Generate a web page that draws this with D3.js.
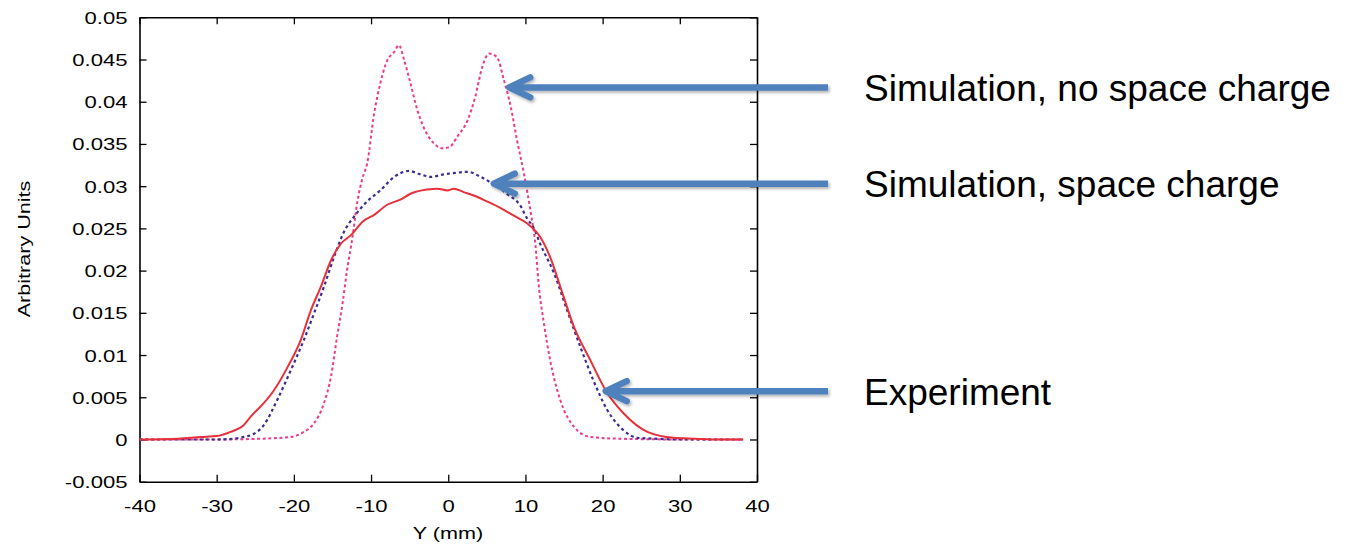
<!DOCTYPE html>
<html>
<head>
<meta charset="utf-8">
<script src="https://cdn.jsdelivr.net/npm/d3@7"></script>
<style>
  html, body { margin: 0; padding: 0; background: #fff; }
  svg { display: block; }
  text { font-family: "Liberation Sans", Arial, Helvetica, sans-serif; fill: #000; }
</style>
</head>
<body>
<svg id="chart" width="1349" height="547"></svg>
<script>
// ---------- data ----------
const expX = [-40, -35, -32, -30, -28.2, -26.5, -25.6, -23.9, -22.6, -20.8, -19.1, -17.8, -16.5, -15.2, -13.9, -12.6, -11.1, -9.6, -7.9, -6.2, -4.9, -2.7, -1.4, -0.1, 0.7, 2.0, 3.3, 5.0, 6.8, 8.5, 10.2, 11.9, 13.2, 14.8, 16.3, 18.4, 20.6, 22.7, 25.8, 29.2, 32, 35, 38.2];
const expY = [0, 0.0001, 0.0003, 0.0004, 0.0009, 0.0017, 0.0027, 0.0043, 0.0058, 0.0086, 0.0118, 0.0153, 0.0181, 0.0212, 0.0232, 0.0242, 0.0258, 0.0266, 0.0278, 0.0284, 0.0291, 0.0296, 0.0297, 0.0295, 0.0297, 0.0293, 0.0289, 0.0282, 0.0274, 0.0265, 0.0256, 0.0240, 0.0216, 0.0173, 0.0133, 0.0094, 0.0055, 0.0031, 0.0009, 0.0002, 0.0001, 0, 0];

const scX = [-40, -30, -27.8, -26.0, -25.6, -23.9, -22.1, -20.4, -18.7, -17.4, -16.1, -14.8, -13.5, -12.2, -10.5, -8.8, -7.0, -5.1, -3.6, -2.3, -0.6, 1.2, 2.5, 4.2, 5.9, 7.6, 9.4, 10.2, 11.1, 11.9, 13.7, 15.4, 17.1, 18.8, 20.6, 22.7, 24.5, 26.6, 30, 38.2];
const scY = [0, 0, 0.0001, 0.0004, 0.0005, 0.0017, 0.0048, 0.0082, 0.0118, 0.0149, 0.0181, 0.0216, 0.0246, 0.0264, 0.0282, 0.0295, 0.0311, 0.0318, 0.0314, 0.0311, 0.0314, 0.0316, 0.0317, 0.0311, 0.0302, 0.0291, 0.0276, 0.0262, 0.0250, 0.0232, 0.0197, 0.0153, 0.0110, 0.0070, 0.0035, 0.0011, 0.0002, 0.0001, 0, 0];

const noscX = [-40, -30, -23.9, -20.4, -18.7, -17.4, -16.1, -15.2, -14.4, -13.7, -13.1, -12.4, -11.8, -11.1, -10.5, -9.6, -8.8, -7.9, -7.0, -6.4, -5.7, -4.9, -4.0, -3.2, -1.9, -0.8, 0.1, 1.2, 2.5, 3.5, 4.4, 5.3, 6.3, 7.2, 8.1, 8.9, 9.8, 10.7, 11.3, 11.7, 12.4, 13.2, 14.5, 16.3, 18.4, 21.9, 30, 38.2];
const noscY = [0, 0, 0.0001, 0.0003, 0.0009, 0.0019, 0.0043, 0.0074, 0.0122, 0.0161, 0.0201, 0.0240, 0.0280, 0.0310, 0.0327, 0.0386, 0.0422, 0.0449, 0.0459, 0.0467, 0.0449, 0.0422, 0.0390, 0.0370, 0.0351, 0.0345, 0.0346, 0.0359, 0.0378, 0.0406, 0.0441, 0.0457, 0.0453, 0.0426, 0.0394, 0.0355, 0.0315, 0.0268, 0.0230, 0.0185, 0.0137, 0.0094, 0.0047, 0.0015, 0.0003, 0.0001, 0, 0];

const xTicks = [-40, -30, -20, -10, 0, 10, 20, 30, 40];
const xTickLabels = ["-40", "-30", "-20", "-10", "0", "10", "20", "30", "40"];
const yTicks = [-0.005, 0, 0.005, 0.01, 0.015, 0.02, 0.025, 0.03, 0.035, 0.04, 0.045, 0.05];
const yTickLabels = ["-0.005", "0", "0.005", "0.01", "0.015", "0.02", "0.025", "0.03", "0.035", "0.04", "0.045", "0.05"];

const annLabels = ["Simulation, no space charge", "Simulation, space charge", "Experiment"];
const annTipX = [7.9, 5.9, 20.4];
const annTipY = [0.0417, 0.0303, 0.00572];

// ---------- layout ----------
const svg = d3.select("#chart");
const L = 139.5, R = 757, T = 17.3, B = 481.7;
const x = d3.scaleLinear().domain([-40, 40]).range([L, R]);
const y = d3.scaleLinear().domain([-0.005, 0.05]).range([B, T]);
const SX = 1.3; // wide glyphs of original

const defs = svg.append("defs");
const f = defs.append("filter").attr("id", "shadow").attr("x", "-10%").attr("y", "-50%").attr("width", "130%").attr("height", "200%");
f.append("feDropShadow").attr("dx", 1.5).attr("dy", 2).attr("stdDeviation", 1.5).attr("flood-color", "#000").attr("flood-opacity", 0.3);

// axes
const gB = svg.append("g").attr("transform", `translate(0,${B})`)
  .call(d3.axisBottom(x).tickValues(xTicks).tickSize(-7).tickSizeOuter(0).tickFormat((d, i) => xTickLabels[i]));
const gT = svg.append("g").attr("transform", `translate(0,${T})`)
  .call(d3.axisTop(x).tickValues(xTicks).tickSize(-7).tickSizeOuter(0).tickFormat(""));
const gL = svg.append("g").attr("transform", `translate(${L},0)`)
  .call(d3.axisLeft(y).tickValues(yTicks).tickSize(-7).tickSizeOuter(0).tickFormat((d, i) => yTickLabels[i]));
const gR = svg.append("g").attr("transform", `translate(${R},0)`)
  .call(d3.axisRight(y).tickValues(yTicks).tickSize(-7).tickSizeOuter(0).tickFormat(""));

[gB, gT, gL, gR].forEach(g => {
  g.select(".domain").attr("stroke", "#000").attr("stroke-width", 1.6);
  g.selectAll(".tick line").attr("stroke", "#000").attr("stroke-width", 1.3);
  g.attr("font-family", null).attr("font-size", null);
});

gL.selectAll(".tick text")
  .attr("x", 0).attr("dy", null)
  .attr("dominant-baseline", "central")
  .attr("text-anchor", "end")
  .attr("font-size", 17)
  .attr("transform", `translate(-12,0) scale(${SX},1)`);

gB.selectAll(".tick text")
  .attr("y", 0).attr("dy", null)
  .attr("text-anchor", "middle")
  .attr("font-size", 17)
  .attr("transform", `translate(0,30) scale(${SX},1)`);

gT.selectAll(".tick text").remove();
gR.selectAll(".tick text").remove();

// axis titles
svg.append("text")
  .attr("text-anchor", "middle")
  .attr("font-size", 17)
  .attr("transform", `translate(448,539) scale(1.27,1)`)
  .text("Y (mm)");
svg.append("text")
  .attr("text-anchor", "middle")
  .attr("dominant-baseline", "central")
  .attr("font-size", 17)
  .attr("transform", `translate(24,249) rotate(-90) scale(1.27,1)`)
  .text("Arbitrary Units");

// series
const line = d3.line().x(d => x(d[0])).y(d => y(d[1])).curve(d3.curveMonotoneX);
const plot = svg.append("g");
plot.append("path").datum(noscX.map((v, i) => [v, noscY[i]]))
  .attr("d", line).attr("fill", "none").attr("stroke", "#ec3a8c").attr("stroke-width", 2)
  .attr("stroke-dasharray", "3,2.6");
plot.append("path").datum(scX.map((v, i) => [v, scY[i]]))
  .attr("d", line).attr("fill", "none").attr("stroke", "#3d2d8e").attr("stroke-width", 2.2)
  .attr("stroke-dasharray", "3,3");
plot.append("path").datum(expX.map((v, i) => [v, expY[i]]))
  .attr("d", line).attr("fill", "none").attr("stroke", "#e8303a").attr("stroke-width", 2);

// annotations
const tailX = 828, textX = 864;
annLabels.forEach((lab, i) => {
  const tx = x(annTipX[i]), ty = y(annTipY[i]);
  const g = svg.append("g").attr("filter", "url(#shadow)");
  g.append("line").attr("x1", tx + 2).attr("y1", ty).attr("x2", tailX).attr("y2", ty)
    .attr("stroke", "#4f81bd").attr("stroke-width", 6.5);
  g.append("path").attr("d", `M${tx + 21},${ty - 10} L${tx},${ty} L${tx + 21},${ty + 10}`)
    .attr("fill", "none").attr("stroke", "#4f81bd").attr("stroke-width", 6.5)
    .attr("stroke-linecap", "round").attr("stroke-linejoin", "round");
  svg.append("text").attr("x", textX).attr("y", ty + 13.5)
    .attr("font-size", 37).text(lab);
});
</script>
</body>
</html>
